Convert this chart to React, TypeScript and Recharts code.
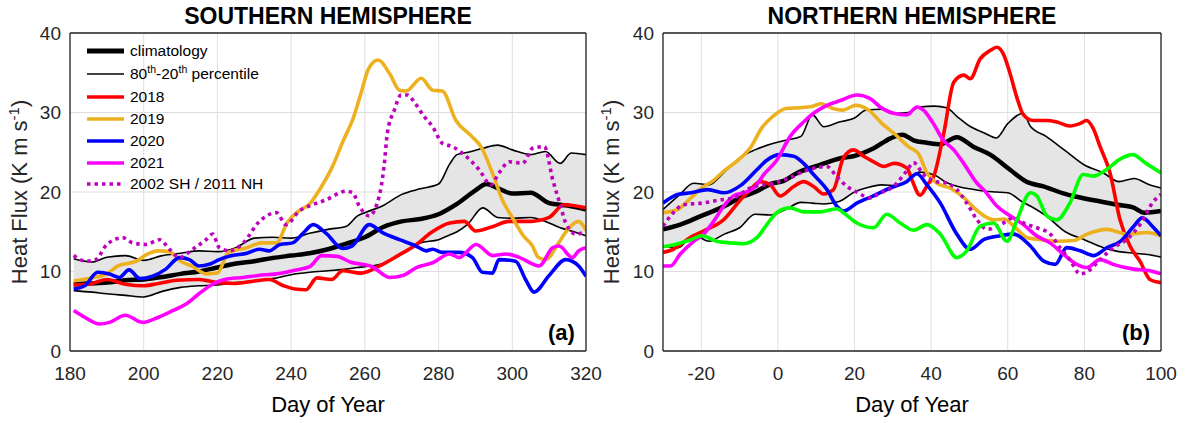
import { ComposedChart, Line, Area, XAxis, YAxis, CartesianGrid, ReferenceLine } from "recharts";

// tick labels
const SH_DAY_TICKS = [180, 200, 220, 240, 260, 280, 300, 320];
const NH_DAY_TICKS = [-20, 0, 20, 40, 60, 80, 100];
const FLUX_TICKS = [0, 10, 20, 30, 40];

// southern hemisphere, percentile band (day, 80th, 20th)
const SH_BAND_DAYS = [181, 186, 190, 195, 200, 205, 210, 215, 220, 225, 230, 235, 240, 245, 250, 255, 258, 260, 265, 270, 275, 280, 283, 285, 288, 292, 296, 300, 305, 309, 313, 316, 320];
const SH_P80 = [11.6, 11.2, 11.8, 12.0, 11.4, 12.0, 12.3, 12.6, 12.5, 13.0, 14.2, 14.3, 14.2, 14.8, 15.3, 15.7, 17.0, 17.4, 18.3, 19.7, 20.4, 21.0, 23.5, 24.7, 25.0, 25.5, 25.9, 25.3, 24.7, 25.1, 23.6, 24.9, 24.7];
const SH_P20 = [7.6, 7.4, 7.2, 7.0, 6.8, 7.5, 8.0, 8.2, 8.3, 8.6, 8.8, 9.1, 9.6, 9.9, 10.1, 10.3, 10.5, 10.6, 11.0, 12.2, 13.6, 14.0, 14.6, 15.0, 16.0, 18.0, 16.8, 16.7, 16.8, 16.3, 15.5, 15.1, 14.5];

const SH_CLIM: [number, number][] = [[181, 8.4], [185, 8.5], [190, 8.6], [195, 8.9], [200, 9.0], [205, 9.3], [210, 9.7], [215, 10.0], [220, 10.5], [225, 11.0], [230, 11.3], [235, 11.7], [240, 12.0], [245, 12.3], [250, 12.8], [255, 13.5], [260, 14.3], [265, 15.6], [270, 16.3], [275, 16.6], [280, 17.2], [285, 18.5], [290, 20.2], [293, 21.0], [296, 20.5], [300, 19.8], [305, 19.9], [310, 18.6], [315, 18.3], [320, 17.8]];
const SH_2018: [number, number][] = [[181, 8.3], [186, 8.5], [190, 9.0], [195, 8.4], [200, 8.2], [204, 8.5], [209, 8.9], [215, 9.0], [220, 8.6], [225, 8.5], [230, 8.8], [234, 9.0], [238, 8.2], [241, 7.8], [244, 7.7], [247, 9.2], [251, 9.0], [254, 10.1], [259, 9.8], [264, 10.7], [269, 12.0], [274, 13.4], [278, 14.9], [283, 16.1], [287, 16.3], [290, 15.1], [295, 15.7], [299, 16.3], [305, 16.3], [310, 16.8], [314, 18.4], [320, 18.0]];
const SH_2019: [number, number][] = [[181, 8.8], [186, 9.2], [190, 9.7], [193, 10.7], [198, 11.3], [201, 12.2], [204, 12.6], [207, 12.5], [210, 11.3], [213, 10.7], [217, 9.7], [220, 9.8], [223, 12.4], [228, 13.0], [232, 13.6], [236, 13.6], [239, 16.2], [242, 17.6], [245, 18.5], [248, 20.5], [251, 23.0], [254, 26.3], [257, 29.5], [259, 32.5], [261, 35.5], [263.6, 36.6], [266.7, 34.9], [269.4, 32.8], [271.2, 32.7], [275.3, 34.3], [278.4, 32.8], [281, 32.7], [284.7, 29.0], [289, 27.0], [291.5, 25.7], [294.6, 22.4], [297.3, 19.0], [300, 16.8], [303, 14.5], [305.5, 13.2], [307, 11.8], [309, 11.5], [312.6, 13.6], [314.4, 14.9], [318, 16.3], [320, 15.2]];
const SH_2020: [number, number][] = [[181, 7.8], [184, 8.2], [187.5, 9.9], [190.7, 9.7], [193.4, 9.25], [196, 10.2], [199, 9.1], [202.4, 9.4], [206, 10.3], [209.7, 11.75], [212.4, 11.5], [215, 10.7], [217.8, 10.9], [220.5, 11.5], [224, 12.0], [228, 12.3], [231.4, 12.8], [234, 12.6], [237, 13.4], [240.4, 13.6], [243, 14.7], [246, 15.9], [249.5, 14.8], [254, 12.9], [256.5, 13.2], [261.2, 15.9], [264.8, 14.9], [269.4, 14.0], [273.9, 13.2], [276.6, 12.6], [278.4, 12.8], [281, 12.4], [285.6, 12.4], [289.2, 11.75], [291.9, 9.9], [294.6, 9.8], [296.4, 11.5], [300.9, 11.3], [303.6, 9.0], [305.9, 7.4], [310, 9.5], [314.5, 11.5], [318, 10.7], [320, 9.4]];
const SH_2021: [number, number][] = [[181, 5.1], [184, 4.25], [188, 3.4], [190.7, 3.6], [195, 4.5], [199.7, 3.6], [204, 4.25], [208, 5.1], [211.5, 5.9], [215, 7.2], [218.7, 8.4], [222, 9.0], [227, 9.25], [231, 9.5], [236, 9.7], [240.4, 10.1], [245, 10.6], [248.3, 12.0], [252.5, 11.9], [256, 11.2], [262, 10.6], [266.7, 9.25], [270.3, 9.5], [274, 10.5], [278.4, 11.1], [283, 12.2], [285.6, 11.75], [290.2, 13.4], [294.7, 12.0], [298.3, 12.2], [302, 11.75], [307.3, 10.7], [311, 13.0], [312.7, 13.2], [316.3, 11.75], [318, 12.6], [320, 13.0]];
const SH_2002: [number, number][] = [[181, 12.0], [184.4, 11.3], [187, 11.5], [190, 13.4], [194.3, 14.25], [197, 13.6], [200.6, 13.4], [204.3, 14.0], [207, 12.8], [209.7, 11.75], [213.3, 12.8], [216.9, 14.0], [218.7, 14.7], [220.5, 13.0], [223.3, 12.6], [227, 13.6], [231.4, 16.3], [236, 17.4], [238.6, 15.9], [242.2, 17.6], [245.8, 18.4], [249.4, 19.0], [254.9, 20.1], [256.7, 19.9], [258.5, 18.2], [261.2, 17.0], [263.9, 19.5], [265.2, 23.2], [266.1, 27.4], [268, 30.3], [269.8, 32.2], [271.6, 32.2], [273.4, 31.3], [276.1, 29.5], [278.4, 28.2], [281.1, 26.1], [283.8, 25.7], [287.4, 24.5], [291, 22.8], [294.2, 20.9], [296.4, 22.4], [299.2, 23.8], [302.8, 23.6], [305.5, 25.5], [308.7, 25.7], [311, 21.5], [313, 18.4], [314.5, 16.1], [317.2, 14.7], [320, 15.0]];

// northern hemisphere, percentile band
const NH_BAND_DAYS = [-30, -26, -22, -18, -14, -10, -6, -2, 2, 6, 9, 12, 16, 20, 23, 27, 31, 34, 37, 41, 44, 47, 50, 54, 57, 60, 64, 66, 70, 75, 80, 85, 89, 93, 97, 100];
const NH_P80 = [17.8, 19.5, 21.1, 20.9, 22.5, 24.3, 25.3, 26.0, 26.5, 27.0, 29.7, 28.2, 28.8, 29.3, 30.3, 30.4, 29.9, 30.0, 30.7, 30.8, 30.6, 29.4, 28.3, 27.4, 26.8, 28.6, 29.9, 28.2, 27.0, 25.2, 23.4, 22.4, 21.3, 21.7, 20.9, 20.5];
const NH_P20 = [13.2, 13.0, 14.6, 13.8, 14.7, 15.5, 17.2, 17.1, 17.8, 18.7, 18.6, 18.5, 18.8, 20.0, 20.5, 20.9, 20.8, 21.5, 22.5, 22.1, 21.2, 20.7, 20.4, 20.1, 20.0, 19.9, 18.7, 18.2, 17.0, 15.0, 14.0, 13.0, 12.5, 12.3, 12.1, 11.8];

const NH_CLIM: [number, number][] = [[-30, 15.3], [-25.5, 15.9], [-20, 17.0], [-14, 18.2], [-10, 19.25], [-5.5, 20.1], [-2, 21.0], [1.5, 21.4], [5, 22.4], [11, 23.4], [16.3, 24.25], [19.7, 24.5], [25, 25.5], [29.4, 26.75], [32.5, 27.2], [35.4, 26.5], [38.9, 26.2], [42.4, 26.0], [46.7, 26.9], [51, 25.7], [55.4, 24.7], [60.6, 22.8], [64.9, 21.3], [69.3, 20.7], [75.4, 19.7], [78, 19.4], [84.2, 18.8], [88.6, 18.4], [93, 18.0], [95.6, 17.4], [100, 17.6]];
const NH_2018: [number, number][] = [[-30, 12.4], [-27.3, 12.8], [-23, 14.25], [-18.5, 15.3], [-14.2, 16.5], [-9.8, 19.0], [-7.2, 20.3], [-4.6, 21.3], [-2, 20.9], [0.6, 19.5], [4.1, 20.7], [6.7, 21.3], [9.3, 20.7], [11.9, 19.75], [14.5, 20.3], [17.1, 24.3], [19.7, 25.3], [22.4, 24.5], [25, 23.8], [27.7, 23.2], [30.3, 23.6], [33.7, 23.0], [35, 21.5], [37.1, 19.6], [39.3, 21.1], [40.6, 21.9], [43.3, 27.4], [45.9, 33.8], [48.5, 34.7], [50.2, 34.25], [52.8, 36.75], [55.4, 37.8], [57.1, 38.2], [58.8, 37.4], [60.6, 34.9], [62.3, 32.0], [64.1, 29.7], [66.7, 29.0], [70.2, 29.0], [72.8, 28.8], [76.2, 28.3], [78.8, 28.6], [80.6, 29.0], [82.3, 28.0], [84.1, 25.7], [86.7, 22.4], [89.3, 16.5], [91.9, 13.2], [94.5, 11.3], [97.1, 9.0], [100, 8.6]];
const NH_2019: [number, number][] = [[-30, 17.4], [-26.2, 17.8], [-22.7, 19.25], [-19.9, 20.5], [-16.7, 21.5], [-14.2, 22.6], [-10.4, 24.0], [-7, 25.7], [-4.3, 28.0], [-1.3, 29.5], [2.1, 30.5], [5.6, 30.6], [9.1, 30.8], [11.3, 31.1], [14.3, 30.5], [16.9, 30.3], [20.3, 30.9], [23.7, 30.3], [27.2, 28.6], [30.7, 27.2], [34.1, 25.7], [36.7, 24.8], [38.9, 22.4], [41.5, 21.1], [44.9, 20.5], [48.6, 19.25], [51.2, 18.0], [53.8, 17.0], [56.4, 16.5], [59, 16.6], [61.6, 15.7], [65.1, 14.25], [68.6, 14.0], [72.9, 13.8], [77.3, 13.9], [80.7, 14.7], [85.9, 15.3], [91.1, 14.7], [96.3, 14.9], [100, 14.5]];
const NH_2020: [number, number][] = [[-30, 18.6], [-26.2, 19.7], [-22.7, 19.9], [-18.3, 20.3], [-14, 19.9], [-9.8, 20.8], [-5.5, 22.8], [-2.9, 24.0], [0.6, 24.7], [4.1, 24.5], [6.7, 23.6], [9.3, 22.2], [12.8, 20.3], [15.4, 18.2], [17.1, 17.6], [20.6, 18.6], [24.9, 19.5], [29.3, 20.5], [33.6, 21.3], [36.3, 22.3], [38.9, 20.9], [42.4, 18.6], [46.7, 14.7], [50.2, 12.8], [53.7, 14.0], [58.1, 14.5], [61.6, 14.7], [65.9, 13.2], [69.4, 11.3], [72.4, 10.9], [75.4, 13.0], [78.9, 12.6], [82.4, 12.0], [85.9, 13.0], [89.4, 13.8], [92.9, 15.7], [95.1, 16.75], [98.1, 15.5], [100, 14.5]];
const NH_2021: [number, number][] = [[-30, 10.7], [-28, 10.7], [-25.5, 12.2], [-22, 13.8], [-19.4, 14.7], [-16.8, 16.3], [-14.2, 18.2], [-11.6, 19.5], [-9, 19.9], [-6.3, 20.5], [-3.5, 22.3], [-0.3, 24.0], [3.2, 27.0], [6.7, 28.8], [9.3, 29.9], [12.8, 30.9], [16.3, 31.5], [20.6, 32.2], [24.1, 31.75], [26.7, 30.7], [30.2, 29.9], [33.7, 29.7], [36.3, 30.7], [38, 30.3], [40.6, 28.6], [43.2, 26.5], [45.9, 25.3], [48.5, 23.6], [52, 21.1], [53.7, 20.3], [57.2, 18.2], [60.6, 17.0], [64.1, 15.9], [67.5, 14.5], [71, 13.6], [74.5, 12.2], [78, 10.9], [80.6, 10.5], [84.1, 11.5], [87.5, 10.9], [92.8, 10.3], [97.1, 10.1], [100, 9.7]];
const NH_2011: [number, number][] = [[-30, 15.7], [-27.3, 17.4], [-24.7, 18.4], [-19.9, 18.6], [-15.1, 19.0], [-11.6, 19.25], [-7.2, 20.5], [-1.1, 21.1], [3.2, 21.8], [5.8, 22.4], [9.3, 23.0], [12.8, 23.2], [15.4, 21.9], [18, 20.7], [20.6, 20.0], [24, 19.25], [26.7, 19.9], [30.2, 20.7], [33.7, 22.7], [35.4, 23.7], [38, 22.2], [41.5, 21.3], [44.1, 21.1], [46.7, 20.3], [49.3, 18.6], [52, 16.5], [54.6, 15.3], [58.1, 15.9], [61.6, 16.75], [64.1, 16.1], [67.6, 15.5], [71.1, 14.7], [73.6, 13.0], [76.2, 11.5], [78.9, 9.7], [80.6, 9.9], [84.1, 11.5], [87.6, 13.0], [91, 14.0], [94.5, 15.9], [98, 18.8], [100, 19.7]];
// green curve, not in the legend
const NH_GREEN: [number, number][] = [[-30, 13.1], [-26.2, 13.5], [-22.7, 14.0], [-19.9, 14.5], [-16, 13.8], [-12.5, 13.6], [-9, 13.5], [-5.5, 14.25], [-2.9, 15.9], [-0.3, 17.4], [3.2, 18.0], [6.7, 17.5], [11, 17.5], [15.4, 17.9], [17.1, 17.4], [20.6, 16.1], [25, 15.5], [28.4, 17.2], [31.9, 16.1], [35.4, 15.2], [38.9, 15.9], [42.4, 14.7], [46.7, 11.75], [49.3, 12.6], [52.8, 15.7], [56.3, 16.1], [59.8, 13.8], [62.4, 16.5], [65.9, 19.9], [67.6, 19.5], [70.2, 17.0], [72.8, 16.5], [76.2, 18.6], [79.7, 22.2], [82.3, 22.0], [85.7, 22.8], [89.2, 24.1], [92.6, 24.7], [96.1, 23.6], [100, 22.4]];

const AXIS = "#262626";
const FONT = "'Liberation Sans', Arial, sans-serif";
const DOTTED = "#bf00bf";

const pts = (arr: [number, number][]) => arr.map(([d, v]) => ({ d, v }));
const band = (days: number[], hi: number[], lo: number[]) =>
    days.map((d, i) => ({ d, range: [lo[i], hi[i]] }));

type Series = { key: string; data: [number, number][]; color: string; width: number; dash?: string };

const Panel = ({
    left,
    width,
    yAxisWidth,
    marginLeft,
    marginRight,
    domain,
    ticks,
    bandData,
    series,
}: {
    left: number;
    width: number;
    yAxisWidth: number;
    marginLeft: number;
    marginRight: number;
    domain: [number, number];
    ticks: number[];
    bandData: { d: number; range: number[] }[];
    series: Series[];
}) => {
    return (
        <div style={{ position: "absolute", left, top: 0 }}>
            <ComposedChart
                width={width}
                height={423}
                margin={{ top: 33, right: marginRight, bottom: 32, left: marginLeft }}
            >
                <CartesianGrid stroke="#dedede" strokeWidth={1} />
                <XAxis
                    dataKey="d"
                    type="number"
                    domain={domain}
                    ticks={ticks}
                    allowDataOverflow
                    height={40}
                    tickSize={0}
                    tickMargin={16}
                    tick={{ fill: AXIS, fontSize: 19, fontFamily: FONT }}
                    axisLine={{ stroke: AXIS, strokeWidth: 1.3 }}
                />
                <YAxis
                    type="number"
                    domain={[0, 40]}
                    ticks={FLUX_TICKS}
                    allowDataOverflow
                    width={yAxisWidth}
                    tickSize={0}
                    tickMargin={9}
                    tick={{ fill: AXIS, fontSize: 19, fontFamily: FONT }}
                    axisLine={{ stroke: AXIS, strokeWidth: 1.3 }}
                />
                <Area
                    data={bandData}
                    dataKey="range"
                    type="monotone"
                    stroke="none"
                    fill="#e5e5e5"
                    fillOpacity={1}
                    isAnimationActive={false}
                />
                <Line data={bandData.map((b) => ({ d: b.d, v: b.range[1] }))} dataKey="v" type="monotone" stroke="#000" strokeWidth={1.6} dot={false} activeDot={false} isAnimationActive={false} />
                <Line data={bandData.map((b) => ({ d: b.d, v: b.range[0] }))} dataKey="v" type="monotone" stroke="#000" strokeWidth={1.6} dot={false} activeDot={false} isAnimationActive={false} />
                {series.map((s) => (
                    <Line
                        key={s.key}
                        data={pts(s.data)}
                        dataKey="v"
                        type="monotone"
                        stroke={s.color}
                        strokeWidth={s.width}
                        strokeDasharray={s.dash}
                        dot={false}
                        activeDot={false}
                        isAnimationActive={false}
                    />
                ))}
                <ReferenceLine x={domain[1]} stroke={AXIS} strokeWidth={1.3} />
                <ReferenceLine y={40} stroke={AXIS} strokeWidth={1.3} />
            </ComposedChart>
        </div>
    );
};

const LegendRow = ({ top, color, width, dash, children }: { top: number; color: string; width: number; dash?: string; children: any }) => (
    <div style={{ position: "absolute", left: 86, top: top - 10, height: 20, display: "flex", alignItems: "center" }}>
        <svg width={40} height={20}>
            <line x1={1} y1={10} x2={38} y2={10} stroke={color} strokeWidth={width} strokeDasharray={dash} />
        </svg>
        <span style={{ marginLeft: 4, fontSize: 15.5, whiteSpace: "nowrap" }}>{children}</span>
    </div>
);

const supStyle = { fontSize: "0.68em", verticalAlign: "0.55em", lineHeight: 0 };

const YLabel = ({ cx }: { cx: number }) => (
    <div
        style={{
            position: "absolute",
            left: cx - 150,
            top: 192 - 14,
            width: 300,
            lineHeight: "28px",
            textAlign: "center",
            fontSize: 22,
            color: AXIS,
            transform: "rotate(-90deg)",
            whiteSpace: "nowrap",
        }}
    >
        Heat Flux (K m s<span style={supStyle}>-1</span>)
    </div>
);

const Text = ({ cx, top, size, bold, children }: { cx: number; top: number; size: number; bold?: boolean; children: any }) => (
    <div style={{ position: "absolute", left: cx - 200, top, width: 400, textAlign: "center", fontSize: size, fontWeight: bold ? "bold" : "normal", lineHeight: 1, whiteSpace: "nowrap" }}>
        {children}
    </div>
);

export default function App() {
    const shSeries: Series[] = [
        { key: "clim", data: SH_CLIM, color: "#000", width: 4.5 },
        { key: "2018", data: SH_2018, color: "#ff0000", width: 3.6 },
        { key: "2019", data: SH_2019, color: "#edb120", width: 3.6 },
        { key: "2020", data: SH_2020, color: "#0000ff", width: 3.6 },
        { key: "2021", data: SH_2021, color: "#ff00ff", width: 3.6 },
        { key: "2002", data: SH_2002, color: DOTTED, width: 3.6, dash: "3.5 4" },
    ];
    const nhSeries: Series[] = [
        { key: "clim", data: NH_CLIM, color: "#000", width: 4.5 },
        { key: "2018", data: NH_2018, color: "#ff0000", width: 3.6 },
        { key: "2019", data: NH_2019, color: "#edb120", width: 3.6 },
        { key: "2020", data: NH_2020, color: "#0000ff", width: 3.6 },
        { key: "2021", data: NH_2021, color: "#ff00ff", width: 3.6 },
        { key: "2011", data: NH_2011, color: DOTTED, width: 3.6, dash: "3.5 4" },
        { key: "green", data: NH_GREEN, color: "#00ff00", width: 3.6 },
    ];

    return (
        <div style={{ position: "absolute", left: 0, top: 0, width: 1188, height: 423, background: "#fff", fontFamily: FONT, color: "#000", overflow: "hidden" }}>
            <Panel
                left={0}
                width={620}
                yAxisWidth={60}
                marginLeft={10}
                marginRight={34}
                domain={[180, 320]}
                ticks={SH_DAY_TICKS}
                bandData={band(SH_BAND_DAYS, SH_P80, SH_P20)}
                series={shSeries}
            />
            <Panel
                left={620}
                width={568}
                yAxisWidth={35}
                marginLeft={8}
                marginRight={27}
                domain={[-30, 100]}
                ticks={NH_DAY_TICKS}
                bandData={band(NH_BAND_DAYS, NH_P80, NH_P20)}
                series={nhSeries}
            />

            <Text cx={328} top={5} size={23} bold>SOUTHERN HEMISPHERE</Text>
            <Text cx={912} top={5} size={23} bold>NORTHERN HEMISPHERE</Text>
            <Text cx={328} top={394} size={22}>Day of Year</Text>
            <Text cx={912} top={394} size={22}>Day of Year</Text>
            <YLabel cx={20} />
            <YLabel cx={612} />
            <div style={{ position: "absolute", left: 548, top: 320, fontSize: 22, fontWeight: "bold" }}>(a)</div>
            <div style={{ position: "absolute", left: 1122, top: 320, fontSize: 22, fontWeight: "bold" }}>(b)</div>

            <LegendRow top={51} color="#000" width={5}>climatology</LegendRow>
            <LegendRow top={74} color="#000" width={1.6}>
                80<span style={supStyle}>th</span>-20<span style={supStyle}>th</span> percentile
            </LegendRow>
            <LegendRow top={97} color="#ff0000" width={3.6}>2018</LegendRow>
            <LegendRow top={119} color="#edb120" width={3.6}>2019</LegendRow>
            <LegendRow top={141} color="#0000ff" width={3.6}>2020</LegendRow>
            <LegendRow top={163} color="#ff00ff" width={3.6}>2021</LegendRow>
            <LegendRow top={184} color={DOTTED} width={3.6} dash="3.5 4">2002 SH / 2011 NH</LegendRow>
        </div>
    );
}
